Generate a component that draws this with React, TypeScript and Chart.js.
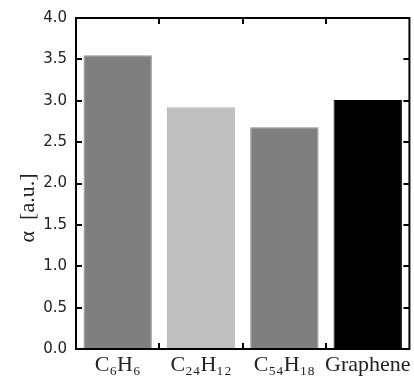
import React, { useEffect, useRef } from "react";
import { Chart, registerables } from "chart.js";

Chart.register(...registerables);

const categories = ["C₆H₆", "C₂₄H₁₂", "C₅₄H₁₈", "Graphene"];
const alphaValues = [3.55, 2.92, 2.68, 3.01];
const barColors = ["#7f7f7f", "#bfbfbf", "#7f7f7f", "#000000"];
const barEdges = ["#939393", "#b0b0b0", "#8a8a8a", "#000000"];
const yTitle = "α  [a.u.]";
const yMin = 0;
const yMax = 4;
const yStep = 0.5;

const framePlugin = {
  id: "frameTicks",
  afterDraw(chart: any) {
    const { ctx, chartArea: a, scales } = chart;
    const x = scales.x;
    const y = scales.y;
    ctx.save();
    ctx.strokeStyle = "#000";
    ctx.lineWidth = 2;
    ctx.strokeRect(a.left, a.top, a.right - a.left, a.bottom - a.top);
    ctx.beginPath();
    const tl = 6;
    y.ticks.forEach((t: any) => {
      const py = Math.round(y.getPixelForValue(t.value));
      ctx.moveTo(a.left, py);
      ctx.lineTo(a.left + tl, py);
      ctx.moveTo(a.right, py);
      ctx.lineTo(a.right - tl, py);
    });
    for (let i = 1; i < categories.length; i++) {
      const px = Math.round((x.getPixelForValue(i - 1) + x.getPixelForValue(i)) / 2);
      ctx.moveTo(px, a.bottom);
      ctx.lineTo(px, a.bottom - tl);
      ctx.moveTo(px, a.top);
      ctx.lineTo(px, a.top + tl);
    }
    ctx.stroke();
    ctx.translate(28, 208);
    ctx.rotate(-Math.PI / 2);
    ctx.fillStyle = "#222";
    ctx.font = "22px 'Liberation Serif', serif";
    ctx.textAlign = "center";
    ctx.textBaseline = "middle";
    ctx.fillText(yTitle, 0, 0);
    ctx.restore();
  },
};

export default function App() {
  const ref = useRef<HTMLCanvasElement>(null);
  useEffect(() => {
    if (!ref.current) return;
    const chart = new Chart(ref.current, {
      type: "bar",
      data: {
        labels: categories,
        datasets: [
          {
            data: alphaValues,
            backgroundColor: barColors,
            borderColor: barEdges,
            borderWidth: 1,
            barPercentage: 0.82,
            categoryPercentage: 1,
          },
        ],
      },
      options: {
        responsive: false,
        animation: false,
        devicePixelRatio: 1,
        layout: { padding: { left: 0, right: 4, top: 15, bottom: 0 } },
        plugins: { legend: { display: false }, tooltip: { enabled: false } },
        scales: {
          x: {
            grid: { display: false, drawTicks: false },
            border: { display: false },
            ticks: {
              color: "#222",
              padding: 3,
              maxRotation: 0,
              autoSkip: false,
              font: { family: "'Liberation Serif', serif", size: 22 },
            },
            afterFit: (s: any) => {
              s.height = 34;
            },
          },
          y: {
            min: yMin,
            max: yMax,
            grid: { display: false, drawTicks: false },
            border: { display: false },
            ticks: {
              stepSize: yStep,
              color: "#222",
              padding: 9,
              font: { family: "'DejaVu Sans', sans-serif", size: 15 },
              callback: (v: any) => Number(v).toFixed(1),
            },
            afterFit: (s: any) => {
              s.width = 76;
            },
          },
        },
      },
      plugins: [framePlugin],
    });
    return () => chart.destroy();
  }, []);
  return (
    <div style={{ position: "fixed", left: 0, top: 0, width: 414, height: 383, background: "#fff" }}>
      <canvas ref={ref} width={414} height={383} />
    </div>
  );
}
